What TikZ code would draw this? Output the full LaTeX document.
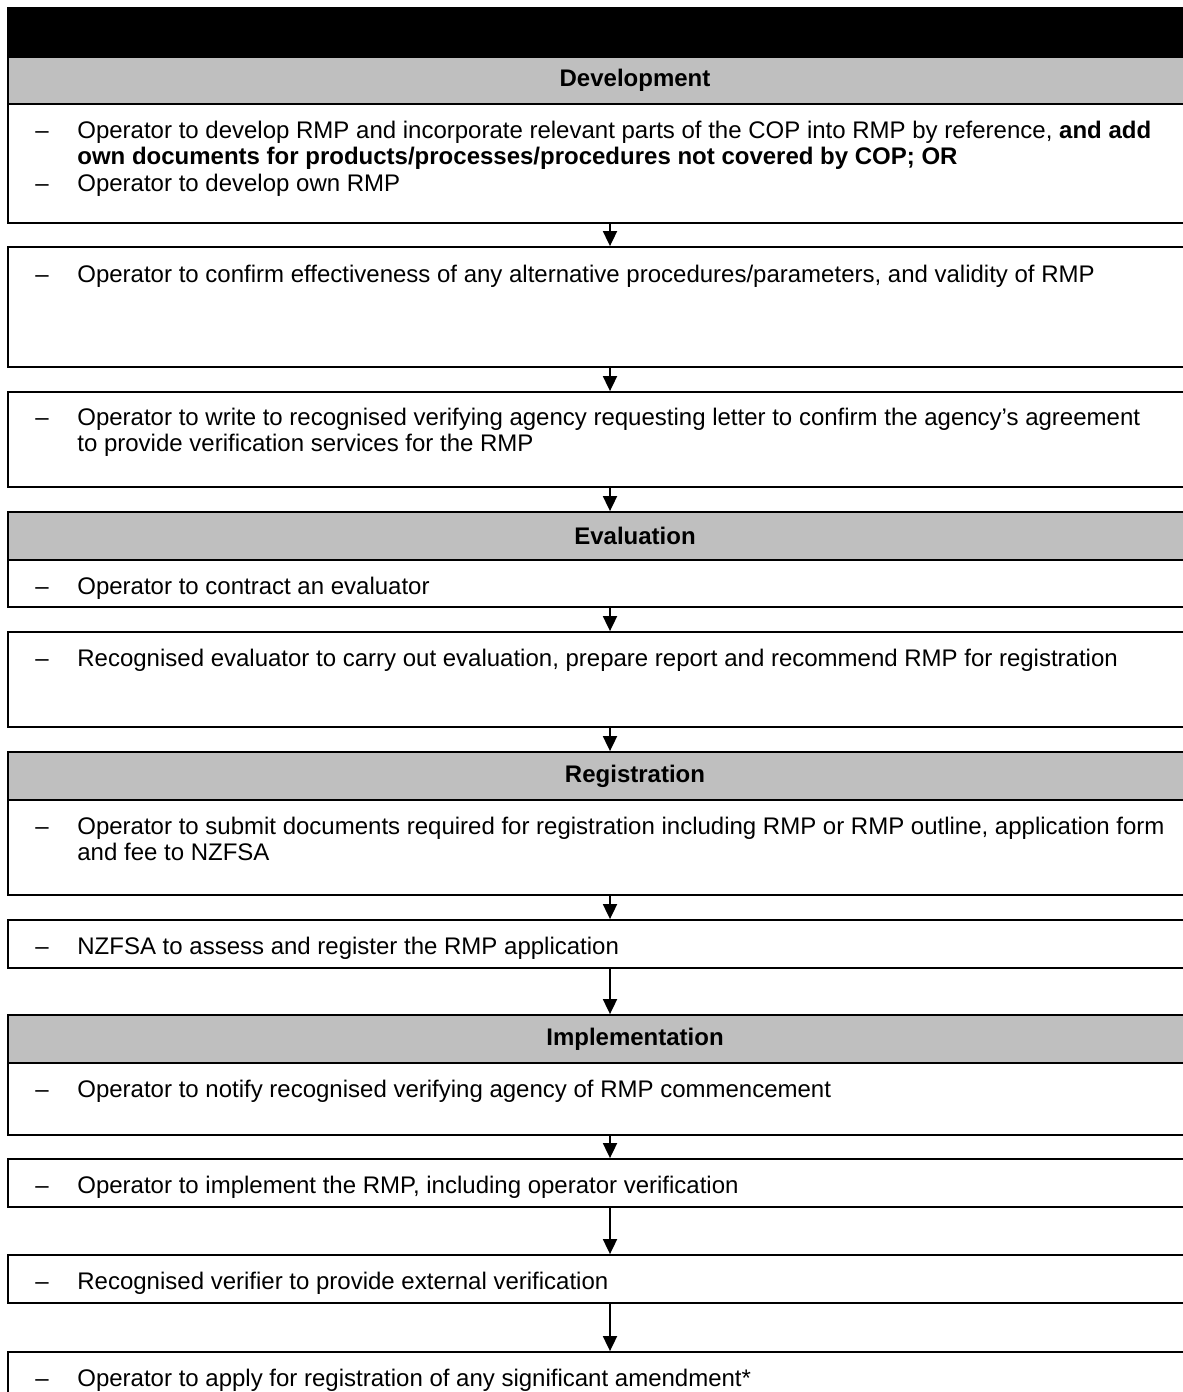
\documentclass[tikz,border=0pt]{standalone}
\usepackage{fontspec}
\setmainfont{Liberation Sans}
\usetikzlibrary{arrows.meta, positioning}

\newcommand{\bodyfont}{\fontsize{12}{13.2}\selectfont\lineskiplimit=-20pt\relax}
\newcommand{\itm}{\rule{0pt}{10pt}\makebox[21pt][l]{\textendash}}
\newcommand{\cont}{\hspace*{21pt}}

\begin{document}
\begin{tikzpicture}[x=0.5pt, y=-0.5pt, >={Triangle[width=7pt,length=7.5pt]},
  every node/.style={font=\bodyfont},
  stepbox/.style={draw, line width=0.9pt, minimum width=627pt, inner sep=0pt},
  headbox/.style={stepbox, fill=black!25, font=\bodyfont\bfseries},
  item/.style={anchor=north west, inner sep=0pt, align=left},
  flow/.style={->, line width=0.9pt}]

\useasboundingbox (0,0) rectangle (1183,1392);

% Title bar
\node[stepbox, fill=black, minimum height=24.5pt] (top) at (635,32.5) {};

% Development
\node[headbox, minimum height=23.5pt] (h1) at (635,80.5) {Development};
\node[stepbox, minimum height=59.5pt] (b1) at (635,163.5) {};
\node[stepbox, minimum height=60pt] (b2) at (635,307) {};
\node[stepbox, minimum height=47.5pt] (b3) at (635,439.5) {};

\node[item] (t1) at (35,118) {\itm Operator to develop RMP and incorporate relevant parts of the COP into RMP by reference, \textbf{and add}\\
  \cont\textbf{own documents for products/processes/procedures not covered by COP; OR}\\
  \itm Operator to develop own RMP};
\node[item] (t2) at (35,262) {\itm Operator to confirm effectiveness of any alternative procedures/parameters, and validity of RMP};
\node[item] (t3) at (35,405) {\itm Operator to write to recognised verifying agency requesting letter to confirm the agency’s agreement\\
  \cont to provide verification services for the RMP};

% Evaluation
\node[headbox, minimum height=24pt] (h2) at (635,536) {Evaluation};
\node[stepbox, minimum height=23.5pt] (b4) at (635,583.5) {};
\node[stepbox, minimum height=47.5pt] (b5) at (635,679.5) {};

\node[item] (t4) at (35,574) {\itm Operator to contract an evaluator};
\node[item] (t5) at (35,646) {\itm Recognised evaluator to carry out evaluation, prepare report and recommend RMP for registration};

% Registration
\node[headbox, minimum height=24pt] (h3) at (635,776) {Registration};
\node[stepbox, minimum height=47.5pt] (b6) at (635,847.5) {};
\node[stepbox, minimum height=24pt] (b7) at (635,944) {};

\node[item] (t6) at (35,814) {\itm Operator to submit documents required for registration including RMP or RMP outline, application form\\
  \cont and fee to NZFSA};
\node[item] (t7) at (35,934) {\itm NZFSA to assess and register the RMP application};

% Implementation
\node[headbox, minimum height=24pt] (h4) at (635,1039) {Implementation};
\node[stepbox, minimum height=36pt] (b8) at (635,1099) {};
\node[stepbox, minimum height=24pt] (b9) at (635,1183) {};
\node[stepbox, minimum height=24pt] (b10) at (635,1279) {};
\node[stepbox, minimum height=34pt] (b11) at (635,1386) {};

\node[item] (t8) at (35,1077) {\itm Operator to notify recognised verifying agency of RMP commencement};
\node[item] (t9) at (35,1173) {\itm Operator to implement the RMP, including operator verification};
\node[item] (t10) at (35,1269) {\itm Recognised verifier to provide external verification};
\node[item] (t11) at (35,1366) {\itm Operator to apply for registration of any significant amendment*};

% Arrows
\coordinate (ax) at (610,0);
\draw[flow] (b1.south -| ax) -- (b2.north -| ax);
\draw[flow] (b2.south -| ax) -- (b3.north -| ax);
\draw[flow] (b3.south -| ax) -- (h2.north -| ax);
\draw[flow] (b4.south -| ax) -- (b5.north -| ax);
\draw[flow] (b5.south -| ax) -- (h3.north -| ax);
\draw[flow] (b6.south -| ax) -- (b7.north -| ax);
\draw[flow] (b7.south -| ax) -- (h4.north -| ax);
\draw[flow] (b8.south -| ax) -- (b9.north -| ax);
\draw[flow] (b9.south -| ax) -- (b10.north -| ax);
\draw[flow] (b10.south -| ax) -- (b11.north -| ax);

\end{tikzpicture}
\end{document}
